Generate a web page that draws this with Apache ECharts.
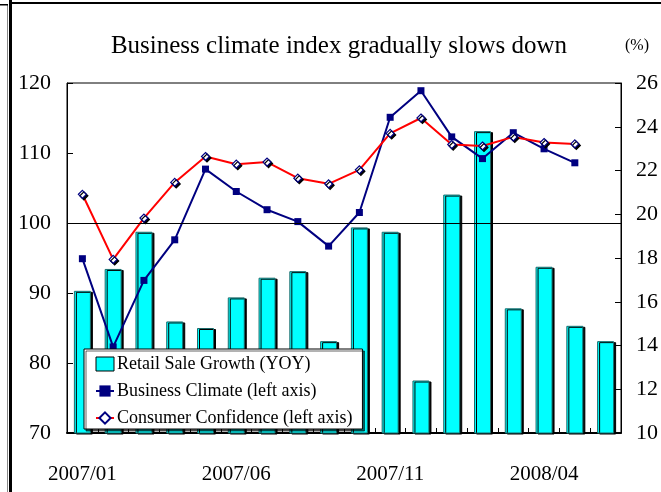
<!DOCTYPE html>
<html>
<head>
<meta charset="utf-8">
<script src="https://cdn.jsdelivr.net/npm/echarts@6/dist/echarts.min.js"></script>
<style>html,body{margin:0;padding:0;background:#fff;}#c{width:661px;height:492px;}</style>
</head>
<body>
<div id="c"></div>
<script>
const categories = ['2007/01','2007/02','2007/03','2007/04','2007/05','2007/06','2007/07','2007/08','2007/09','2007/10','2007/11','2007/12','2008/01','2008/02','2008/03','2008/04','2008/05','2008/06'];
const retailGrowth = [16.5, 17.5, 19.2, 15.1, 14.8, 16.2, 17.1, 17.4, 14.2, 19.4, 19.2, 12.4, 20.9, 23.8, 15.7, 17.6, 14.9, 14.2];
const businessClimate = [94.9, 82.3, 91.8, 97.6, 107.7, 104.5, 101.9, 100.2, 96.7, 101.5, 115.1, 118.9, 112.3, 109.2, 112.9, 110.6, 108.6];
const consumerConfidence = [104.1, 94.8, 100.7, 105.8, 109.5, 108.4, 108.7, 106.4, 105.6, 107.6, 112.8, 115.0, 111.2, 111.0, 112.3, 111.5, 111.3];
const leftTicks = {min: 70, max: 120, interval: 10};
const rightTicks = {min: 10, max: 26, interval: 2};

const FONT = '"Liberation Serif", "Times New Roman", serif';
const chart = echarts.init(document.getElementById('c'), null, {renderer: 'canvas'});
chart.setOption({
  animation: false,
  backgroundColor: '#fff',
  title: {
    text: 'Business climate index gradually slows down',
    left: 334, top: 29, textAlign: 'center',
    textStyle: {fontFamily: FONT, fontSize: 25, fontWeight: 'normal', color: '#000'}
  },
  graphic: [
    {type: 'rect', shape: {x: 9, y: 0, width: 3, height: 492}, style: {fill: '#000'}},
    {type: 'rect', shape: {x: 7, y: 5, width: 1, height: 487}, style: {fill: '#888'}},
    {type: 'rect', shape: {x: 10, y: 2, width: 651, height: 2}, style: {fill: '#000'}},
    {type: 'rect', shape: {x: 0, y: 4, width: 8, height: 1.5}, style: {fill: '#000'}},
    {type: 'text', left: 625, top: 38, style: {text: '(%)', font: '16px ' + FONT, fill: '#000'}}
  ],
  legend: {
    orient: 'vertical',
    left: 84, top: 349,
    padding: [5, 10, 1, 11],
    itemGap: 7,
    itemWidth: 18, itemHeight: 14,
    backgroundColor: '#fff',
    borderColor: '#000', borderWidth: 1,
    shadowColor: 'rgba(0,0,0,0.6)', shadowOffsetX: 2, shadowOffsetY: 2, shadowBlur: 0,
    textStyle: {fontFamily: FONT, fontSize: 18, lineHeight: 20, color: '#000', padding: [0,0,0,-2]},
    data: [
      {name: 'Retail Sale Growth (YOY)', icon: 'rect', itemStyle: {color: '#00FFFF', borderColor: '#000', borderWidth: 1, shadowBlur: 0, shadowOffsetX: 0, shadowOffsetY: 0}},
      'Business Climate (left axis)',
      'Consumer Confidence (left axis)'
    ]
  },
  grid: {left: 67, right: 39, top: 83, bottom: 59, show: true, borderColor: '#000', borderWidth: 1, backgroundColor: 'transparent'},
  xAxis: {
    type: 'category', data: categories, boundaryGap: true,
    axisLine: {lineStyle: {color: '#000', width: 2}},
    axisTick: {show: true, inside: true, interval: 0, length: 5, lineStyle: {color: '#000'}},
    axisLabel: {interval: 4, margin: 31, fontFamily: FONT, fontSize: 21, color: '#000'},
    splitLine: {show: false}
  },
  yAxis: [
    {type: 'value', position: 'left', min: leftTicks.min, max: leftTicks.max, interval: leftTicks.interval,
     axisLine: {show: true, lineStyle: {color: '#000', width: 1}},
     axisTick: {show: true, inside: true, length: 6, lineStyle: {color: '#000'}},
     axisLabel: {margin: 16, fontFamily: FONT, fontSize: 22, color: '#000'},
     splitLine: {show: false}},
    {type: 'value', position: 'right', min: rightTicks.min, max: rightTicks.max, interval: rightTicks.interval,
     axisLine: {show: true, lineStyle: {color: '#000', width: 1}},
     axisTick: {show: true, inside: true, length: 6, lineStyle: {color: '#000'}},
     axisLabel: {margin: 15, fontFamily: FONT, fontSize: 22, color: '#000'},
     splitLine: {show: false}}
  ],
  series: [
    {name: 'Retail Sale Growth (YOY)', type: 'bar', yAxisIndex: 1, data: retailGrowth, barWidth: 17,
     itemStyle: {color: '#00FFFF', borderColor: '#1a6b6b', borderWidth: 1,
       shadowColor: '#000', shadowOffsetX: 2, shadowOffsetY: 1, shadowBlur: 0},
     z: 2},
    {name: 'Business Climate (left axis)', type: 'line', yAxisIndex: 0, data: businessClimate,
     symbol: 'rect', symbolSize: 7, showAllSymbol: true,
     lineStyle: {color: '#000080', width: 2}, itemStyle: {color: '#000080'},
     markLine: {silent: true, symbol: ['none','none'], label: {show: false},
       lineStyle: {color: '#000', width: 1, type: 'solid'}, data: [{yAxis: 100}]},
     z: 3},
    {name: 'Consumer Confidence (left axis)', type: 'line', yAxisIndex: 0, data: consumerConfidence,
     symbol: 'diamond', symbolSize: 8, showAllSymbol: true,
     lineStyle: {color: '#FF0000', width: 2},
     itemStyle: {color: '#fff', borderColor: '#000080', borderWidth: 1.2,
       shadowColor: '#000', shadowOffsetX: 1.5, shadowOffsetY: 1.5, shadowBlur: 0},
     z: 4}
  ]
});
</script>
</body>
</html>
